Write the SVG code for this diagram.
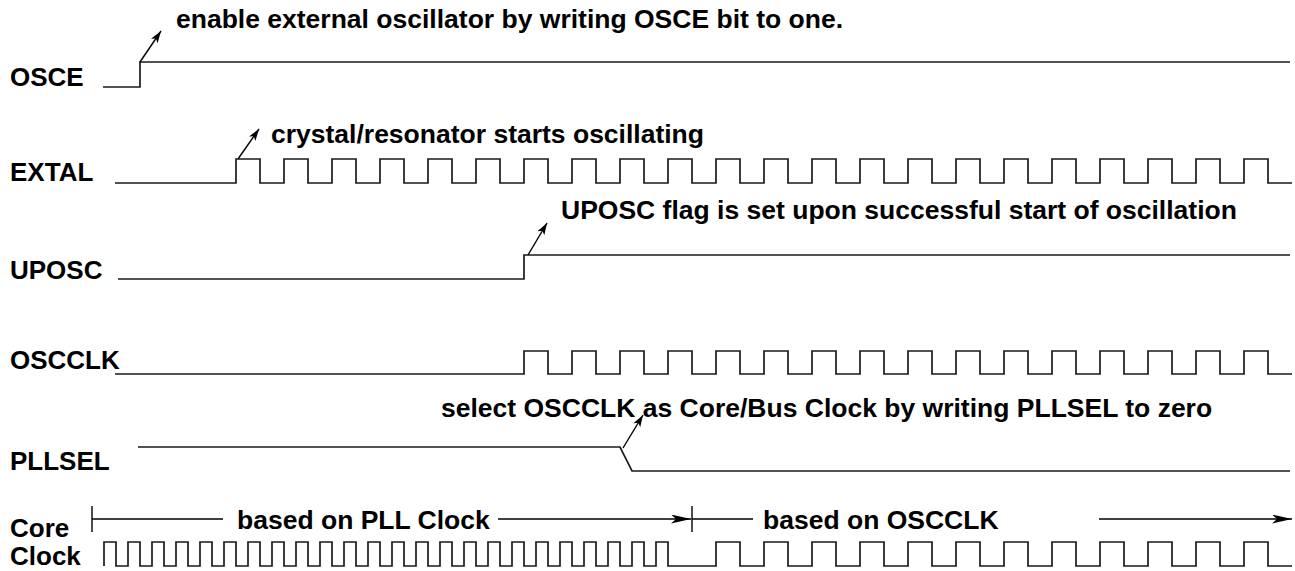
<svg xmlns="http://www.w3.org/2000/svg" width="1295" height="571" viewBox="0 0 1295 571">
<style>
text{font-family:"Liberation Sans",Arial,Helvetica,sans-serif;font-weight:bold;fill:#000}
.lbl{font-size:26px}
.ann{font-size:26.5px}
.w{fill:none;stroke:#1a1a1a;stroke-width:1.7;stroke-linejoin:miter}
.a{fill:none;stroke:#000;stroke-width:1.4}
</style>
<defs>
<marker id="ah" markerUnits="userSpaceOnUse" markerWidth="14" markerHeight="10" refX="12" refY="4" orient="auto"><path d="M0,0 L12,4 L0,8 L3,4 Z" fill="#000"/></marker>
<marker id="ahb" markerUnits="userSpaceOnUse" markerWidth="22" markerHeight="10" refX="20" refY="4.5" orient="auto"><path d="M0,0 L20,4.5 L0,9 L5,4.5 Z" fill="#000"/></marker>
</defs>
<rect width="1295" height="571" fill="#fff"/>
<g id="osce">
<text class="lbl" x="10" y="86">OSCE</text>
<path class="w" d="M103 87 H140 V62 H1290"/>
</g>
<g id="extal">
<text class="lbl" x="10" y="181">EXTAL</text>
<path class="w" d="M115 183 H236 v-24h24v24h24v-24h24v24h24 v-24h24v24h24v-24h24v24h24 v-24h24v24h24v-24h24v24h24 v-24h24v24h24v-24h24v24h24 v-24h24v24h24v-24h24v24h24 v-24h24v24h24v-24h24v24h24 v-24h24v24h24v-24h24v24h24 v-24h24v24h24v-24h24v24h24 v-24h24v24h24v-24h24v24h24 v-24h24v24h24v-24h24v24h24 v-24h24v24h24v-24h24v24h24"/>
</g>
<g id="uposc">
<text class="lbl" x="10" y="279">UPOSC</text>
<path class="w" d="M118 279 H524 V255 H1290"/>
</g>
<g id="oscclk">
<text class="lbl" x="10" y="369">OSCCLK</text>
<path class="w" d="M115 374 H524 v-23h24v23h24v-23h24v23h24 v-23h24v23h24v-23h24v23h24 v-23h24v23h24v-23h24v23h24 v-23h24v23h24v-23h24v23h24 v-23h24v23h24v-23h24v23h24 v-23h24v23h24v-23h24v23h24 v-23h24v23h24v-23h24v23h24 v-23h24v23h24v-23h24v23h24"/>
</g>
<g id="pllsel">
<text class="lbl" x="10" y="470">PLLSEL</text>
<path class="w" d="M138 447 H620 L632 471 H1290"/>
</g>
<g id="coreclock">
<text class="lbl" x="10" y="537">Core</text>
<text class="lbl" x="10" y="565">Clock</text>
<path class="w" d="M104 566 v-24h12v24h12v-24h12v24h12 v-24h12v24h12v-24h12v24h12 v-24h12v24h12v-24h12v24h12 v-24h12v24h12v-24h12v24h12 v-24h12v24h12v-24h12v24h12 v-24h12v24h12v-24h12v24h12 v-24h12v24h12v-24h12v24h12 v-24h12v24h12v-24h12v24h12 v-24h12v24h12v-24h12v24h12 v-24h12v24h12v-24h12v24h12 v-24h12v24h12v-24h12v24h12 v-24h12v24h12v-24h12v24h12 H716 v-24h24v24h24v-24h24v24h24 v-24h24v24h24v-24h24v24h24 v-24h24v24h24v-24h24v24h24 v-24h24v24h24v-24h24v24h24 v-24h24v24h24v-24h24v24h24 v-24h24v24h24v-24h24v24h24"/>
</g>
<g id="annotations">
<text class="ann" x="176" y="28">enable external oscillator by writing OSCE bit to one.</text>
<text class="ann" x="271" y="143">crystal/resonator starts oscillating</text>
<text class="ann" x="561" y="219">UPOSC flag is set upon successful start of oscillation</text>
<text class="ann" x="441" y="417">select OSCCLK as Core/Bus Clock by writing PLLSEL to zero</text>
<text class="ann" x="237" y="529">based on PLL Clock</text>
<text class="ann" x="763" y="529">based on OSCCLK</text>
</g>
<g id="connectors">
<line class="a" x1="140" y1="62" x2="161" y2="31" marker-end="url(#ah)"/>
<line class="a" x1="238" y1="159" x2="259" y2="129" marker-end="url(#ah)"/>
<line class="a" x1="528" y1="255" x2="547" y2="223" marker-end="url(#ah)"/>
<line class="a" x1="623" y1="448" x2="643" y2="415" marker-end="url(#ah)"/>
<line class="a" x1="92" y1="506" x2="92" y2="532"/>
<line class="a" x1="92" y1="519" x2="223" y2="519"/>
<line class="a" x1="498" y1="519" x2="691" y2="519" marker-end="url(#ahb)"/>
<line class="a" x1="692" y1="506" x2="692" y2="532"/>
<line class="a" x1="692" y1="519" x2="753" y2="519"/>
<line class="a" x1="1099" y1="519" x2="1292" y2="519" marker-end="url(#ahb)"/>
</g>
</svg>
